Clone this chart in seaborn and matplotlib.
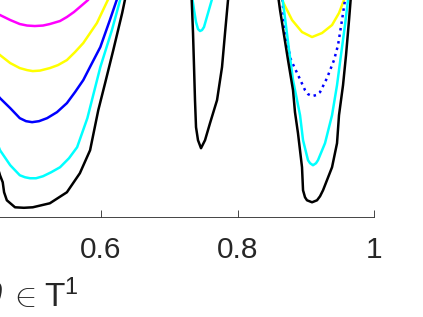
import numpy as np
import matplotlib
matplotlib.use('Agg')
import matplotlib.pyplot as plt
import seaborn as sns

sns.set_style('white')
plt.rcParams['font.family'] = ['Liberation Sans', 'DejaVu Sans']
plt.rcParams['mathtext.fontset'] = 'custom'
plt.rcParams['mathtext.rm'] = 'Liberation Sans'
plt.rcParams['mathtext.it'] = 'Liberation Sans:italic'

# level curves, well by well (x = theta, y = level)
magentaX1 = [0.445, 0.452, 0.467, 0.481, 0.4916, 0.503, 0.515, 0.525, 0.5399, 0.550, 0.5604, 0.569, 0.581, 0.585]
magentaY1 = [2.04, 2.02, 1.97, 1.93, 1.915, 1.91, 1.915, 1.93, 1.96, 2.00, 2.05, 2.10, 2.17, 2.21]

yellowX1 = [0.445, 0.452, 0.467, 0.481, 0.4916, 0.500, 0.5106, 0.525, 0.537, 0.550, 0.5619, 0.574, 0.594, 0.610, 0.615]
yellowY1 = [1.66, 1.62, 1.54, 1.49, 1.47, 1.46, 1.465, 1.49, 1.52, 1.57, 1.65, 1.74, 1.94, 2.17, 2.23]
yellowX3 = [0.8623, 0.8652, 0.8799, 0.8945, 0.9092, 0.9238, 0.9385, 0.9487, 0.9560, 0.9575]
yellowY3 = [2.22, 2.17, 1.97, 1.85, 1.80, 1.84, 1.92, 2.04, 2.17, 2.20]

blueX1 = [0.445, 0.452, 0.467, 0.481, 0.4901, 0.499, 0.5092, 0.521, 0.5355, 0.550, 0.5619, 0.574, 0.5853, 0.599, 0.613, 0.623, 0.626]
blueY1 = [1.25, 1.19, 1.09, 0.99, 0.96, 0.95, 0.96, 0.99, 1.05, 1.14, 1.25, 1.37, 1.52, 1.70, 1.97, 2.17, 2.23]
blueX3 = [0.8652, 0.8681, 0.8725, 0.8784, 0.8901, 0.8989, 0.9033, 0.9092, 0.9150, 0.9209, 0.9311, 0.9414, 0.9473, 0.9531, 0.9575, 0.9590]
blueY3 = [2.22, 1.97, 1.75, 1.57, 1.40, 1.27, 1.23, 1.21, 1.22, 1.25, 1.39, 1.57, 1.72, 1.97, 2.17, 2.22]

cyanX1 = [0.448, 0.452, 0.467, 0.481, 0.4886, 0.496, 0.5048, 0.515, 0.527, 0.540, 0.5531, 0.565, 0.580, 0.599, 0.616, 0.628, 0.631]
cyanY1 = [0.74, 0.67, 0.52, 0.42, 0.40, 0.39, 0.39, 0.41, 0.45, 0.50, 0.59, 0.70, 0.99, 1.50, 1.87, 2.17, 2.23]
cyanX2 = [0.7333, 0.7363, 0.7392, 0.7421, 0.7451, 0.7480, 0.7509, 0.7568, 0.7627]
cyanY2 = [2.21, 2.07, 1.95, 1.88, 1.86, 1.87, 1.90, 2.04, 2.18]
cyanX3 = [0.8652, 0.8681, 0.8755, 0.8813, 0.8916, 0.8960, 0.9033, 0.9063, 0.9106, 0.9150, 0.9179, 0.9282, 0.9385, 0.9458, 0.9516, 0.9575, 0.9619, 0.9634]
cyanY3 = [2.22, 2.07, 1.67, 1.37, 1.02, 0.77, 0.57, 0.54, 0.52, 0.54, 0.57, 0.74, 1.02, 1.32, 1.62, 1.92, 2.17, 2.22]

blackX1 = [0.449, 0.452, 0.456, 0.458, 0.462, 0.474, 0.487, 0.500, 0.525, 0.550, 0.569, 0.584, 0.596, 0.606, 0.618, 0.631, 0.635, 0.638]
blackY1 = [0.49, 0.42, 0.35, 0.25, 0.17, 0.10, 0.095, 0.10, 0.14, 0.25, 0.44, 0.67, 1.07, 1.34, 1.67, 2.04, 2.17, 2.25]
blackX2 = [0.7326, 0.7348, 0.7363, 0.7377, 0.7392, 0.7421, 0.7465, 0.7524, 0.7597, 0.7700, 0.7773, 0.7817, 0.7861, 0.7875]
blackY2 = [2.22, 1.84, 1.50, 1.17, 0.90, 0.77, 0.69, 0.77, 0.94, 1.17, 1.50, 1.84, 2.17, 2.22]
blackX3 = [0.8593, 0.8623, 0.8740, 0.8813, 0.8842, 0.8886, 0.8945, 0.8960, 0.8989, 0.9018, 0.9092, 0.9165, 0.9209, 0.9253, 0.9385, 0.9458, 0.9487, 0.9546, 0.9590, 0.9634, 0.9663]
blackY3 = [2.22, 2.07, 1.57, 1.27, 1.05, 0.84, 0.50, 0.27, 0.20, 0.17, 0.15, 0.17, 0.21, 0.27, 0.50, 0.74, 1.02, 1.32, 1.62, 1.97, 2.22]

tickVals = [0, 0.2, 0.4, 0.6, 0.8, 1]
tickLabels = ['0', '0.2', '0.4', '0.6', '0.8', '1']

segments = [(magentaX1, magentaY1, '#ff00ff', '-'),
            (yellowX1, yellowY1, '#ffff00', '-'), (yellowX3, yellowY3, '#ffff00', '-'),
            (blueX1, blueY1, '#0000ff', '-'), (blueX3, blueY3, '#0000ff', ':'),
            (cyanX1, cyanY1, '#00ffff', '-'), (cyanX2, cyanY2, '#00ffff', '-'), (cyanX3, cyanY3, '#00ffff', '-'),
            (blackX1, blackY1, '#000000', '-'), (blackX2, blackY2, '#000000', '-'), (blackX3, blackY3, '#000000', '-')]

fig = plt.figure(figsize=(4.23, 3.17), dpi=100)
# the picture is a crop: axes run past the left and top edges
ax = fig.add_axes([-0.7293, 0.3145, 1.6135, 0.6855])

for xs, ys, col, ls in segments:
    sns.lineplot(x=xs, y=ys, color=col, linestyle=ls, linewidth=1.8,
                 sort=False, estimator=None, ax=ax)

ax.set_xlim(0, 1)
ax.set_ylim(0, 2.17)
ax.set_xticks(tickVals)
ax.set_xticklabels(tickLabels)
ax.set_yticks([])
for s in ['top', 'right', 'left']: ax.spines[s].set_visible(False)
ax.spines['bottom'].set_color('#262626')
ax.spines['bottom'].set_linewidth(0.6)
ax.tick_params(axis='x', direction='in', length=5, width=0.6, color='#262626',
               labelsize=21.5, labelcolor='#262626', pad=13.5, bottom=True)

ax.set_xlabel(r'$\theta\;\in\hspace{0.07}\mathrm{T}^{1}$', fontsize=24, color='#262626')
ax.xaxis.set_label_coords(0.497, -0.415)
ax.xaxis.label.set_va('baseline')

fig.savefig('out.png', dpi=100)
